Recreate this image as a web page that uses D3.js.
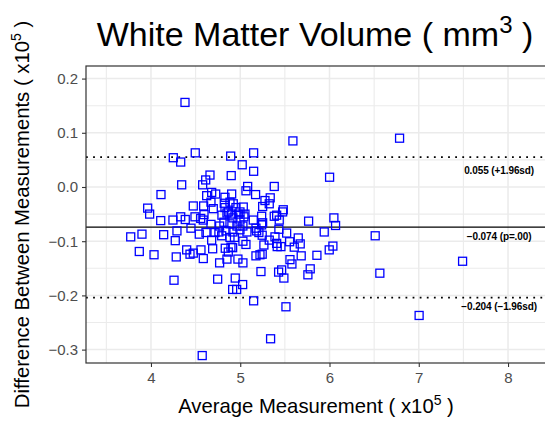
<!DOCTYPE html>
<html><head><meta charset="utf-8">
<script src="https://cdn.jsdelivr.net/npm/d3@7"></script>
<style>body{margin:0;background:#fff;} svg{display:block;font-family:"Liberation Sans",Arial,sans-serif;}</style>
</head><body><svg id="c" width="545" height="421"></svg>
<script>
// Average measurement (x10^5)
const avgValues = [
 4.381,5.590,4.250,4.333,4.496,4.893,5.150,5.022,5.150,4.661,
 4.613,4.579,4.344,4.899,5.083,5.064,5.381,4.112,4.624,4.680,
 4.725,4.829,4.904,5.172,5.336,5.277,5.325,5.482,3.963,4.474,
 4.590,4.672,4.698,4.821,4.922,5.034,5.251,3.985,4.109,4.246,
 4.333,4.384,4.493,4.557,4.594,4.672,4.769,3.773,3.899,4.142,
 4.291,4.272,3.869,4.034,4.283,4.400,4.437,4.474,4.560,4.586,
 4.691,4.541,4.616,4.680,4.717,4.769,4.851,4.832,4.866,4.915,
 4.974,5.030,5.030,5.064,4.885,4.935,4.258,4.747,4.944,4.915,
 4.960,5.027,5.150,5.232,5.176,5.221,5.246,5.265,5.246,5.184,
 5.209,5.146,5.251,5.240,5.381,5.408,5.437,5.389,5.325,5.408,
 5.414,5.456,5.433,5.520,5.553,5.605,5.650,5.672,5.683,5.557,
 5.579,5.430,5.464,5.489,5.512,5.340,4.574,5.766,5.758,5.784,
 6.785,6.001,6.049,6.068,5.941,6.512,5.859,5.997,6.038,6.564,
 7.491,7.004,4.885,4.829,4.952,4.997,4.866,4.904,4.978,5.053,
 4.586,4.448,4.792,4.761,4.896,5.240,5.475,5.176,
 4.795,4.851,4.918,4.997,5.041,4.817,4.885,4.963,5.030,4.840,4.918,4.997,5.075
];
// Difference between measurements (x10^5)
const diffValues = [
 0.156,0.085,0.054,0.046,0.063,0.057,0.063,0.041,0.029,0.022,
 0.013,0.004,0.004,0.021,0.001,-0.007,0.001,-0.014,-0.016,-0.010,
 -0.013,-0.019,-0.013,-0.014,-0.020,-0.025,-0.031,-0.042,-0.039,-0.035,
 -0.035,-0.028,-0.040,-0.030,-0.031,-0.037,-0.036,-0.050,-0.062,-0.061,
 -0.055,-0.060,-0.055,-0.058,-0.051,-0.069,-0.072,-0.092,-0.087,-0.088,
 -0.081,-0.099,-0.119,-0.125,-0.129,-0.116,-0.124,-0.122,-0.116,-0.132,
 -0.114,-0.087,-0.084,-0.098,-0.084,-0.140,-0.133,-0.113,-0.120,-0.112,
 -0.133,-0.140,-0.100,-0.106,-0.093,-0.093,-0.172,-0.170,-0.168,-0.189,
 -0.189,-0.180,-0.210,-0.156,-0.127,-0.125,-0.124,-0.107,-0.089,-0.081,
 -0.084,-0.061,-0.066,-0.054,-0.054,-0.052,-0.061,-0.092,-0.098,-0.104,
 -0.110,-0.110,-0.078,-0.085,-0.101,-0.111,-0.094,-0.105,-0.127,-0.134,
 -0.142,-0.157,-0.153,-0.168,-0.221,-0.280,-0.311,-0.063,-0.162,-0.151,
 0.090,0.018,-0.057,-0.071,-0.083,-0.090,-0.126,-0.116,-0.109,-0.159,
 -0.137,-0.237,-0.028,-0.038,-0.038,-0.046,-0.046,-0.050,-0.050,-0.050,
 -0.061,-0.076,-0.090,-0.083,-0.111,-0.070,-0.046,-0.076,
 -0.052,-0.048,-0.057,-0.061,-0.055,-0.065,-0.068,-0.072,-0.072,-0.081,-0.083,-0.079,-0.083
];
const xTickValues = [4,5,6,7,8];
const xMinorValues = [3.5,4.5,5.5,6.5,7.5];
const yTickValues = [-0.3,-0.2,-0.1,0.0,0.1,0.2];
const yMinorValues = [-0.25,-0.15,-0.05,0.05,0.15];
const refLineValues = [0.055,-0.074,-0.204];
const refLineStyles = ["dot","solid","dot"];
const refLabels = ["0.055 (+1.96sd)","\u22120.074 (p=.00)","\u22120.204 (\u22121.96sd)"];
const refLabelY = [0.031,-0.092,-0.221];
const refLabelX = 7.9;
const xDomain = [3.272, 8.4255];
const yDomain = [-0.3247, 0.2232];

const svg = d3.select("#c");
const L = 86, R = 546, T = 66, B = 363;
const x = d3.scaleLinear().domain(xDomain).range([L, R]);
const y = d3.scaleLinear().domain(yDomain).range([B, T]);

svg.append("defs").append("clipPath").attr("id","clip")
  .append("rect").attr("x",L).attr("y",T).attr("width",R-L).attr("height",B-T);

const panel = svg.append("g").attr("clip-path","url(#clip)");
panel.append("rect").attr("x",L).attr("y",T).attr("width",R-L).attr("height",B-T).attr("fill","#fff");

// grid
panel.selectAll(".xmin").data(xMinorValues).join("line")
  .attr("x1",d=>x(d)).attr("x2",d=>x(d)).attr("y1",T).attr("y2",B)
  .attr("stroke","#ebebeb").attr("stroke-width",1.1);
panel.selectAll(".ymin").data(yMinorValues).join("line")
  .attr("y1",d=>y(d)).attr("y2",d=>y(d)).attr("x1",L).attr("x2",R)
  .attr("stroke","#ebebeb").attr("stroke-width",1.1);
panel.selectAll(".xmaj").data(xTickValues).join("line")
  .attr("x1",d=>x(d)).attr("x2",d=>x(d)).attr("y1",T).attr("y2",B)
  .attr("stroke","#ebebeb").attr("stroke-width",1.5);
panel.selectAll(".ymaj").data(yTickValues).join("line")
  .attr("y1",d=>y(d)).attr("y2",d=>y(d)).attr("x1",L).attr("x2",R)
  .attr("stroke","#ebebeb").attr("stroke-width",1.5);

// reference lines
refLineValues.forEach((v,i)=>{
  const ln = panel.append("line").attr("x1",L).attr("x2",R)
    .attr("y1",y(v)).attr("y2",y(v)).attr("stroke","#000");
  if (refLineStyles[i]==="dot") ln.attr("stroke-width",1.8).attr("stroke-dasharray","1.8,5.3");
  else ln.attr("stroke-width",1.4);
});

// points
const s = 8;
panel.selectAll(".pt").data(avgValues.map((v,i)=>[v,diffValues[i]])).join("rect")
  .attr("x",d=>x(d[0])-s/2).attr("y",d=>y(d[1])-s/2)
  .attr("width",s).attr("height",s)
  .attr("fill","none").attr("stroke","#0000ff").attr("stroke-width",1.3);

// labels
refLabels.forEach((t,i)=>{
  panel.append("text").attr("x",x(refLabelX)).attr("y",y(refLabelY[i]))
    .attr("dy","0.35em").attr("text-anchor","middle")
    .attr("font-size",10).attr("font-weight","bold").attr("letter-spacing","-0.1")
    .attr("fill","#000").text(t);
});

// border
svg.append("rect").attr("x",L).attr("y",T).attr("width",R-L).attr("height",B-T)
  .attr("fill","none").attr("stroke","#333").attr("stroke-width",1.2);

// axes
const fmtY = d => (d<0?"\u2212":"") + Math.abs(d).toFixed(1);
const xAxis = svg.append("g").attr("transform",`translate(0,${B})`)
  .call(d3.axisBottom(x).tickValues(xTickValues).tickFormat(d3.format("d")).tickSize(4).tickPadding(5));
const yAxis = svg.append("g").attr("transform",`translate(${L},0)`)
  .call(d3.axisLeft(y).tickValues(yTickValues).tickFormat(fmtY).tickSize(4).tickPadding(4));
[xAxis,yAxis].forEach(a=>{
  a.select(".domain").remove();
  a.selectAll(".tick line").attr("stroke","#333").attr("stroke-width",1.1);
  a.selectAll(".tick text").attr("fill","#4d4d4d").attr("font-size",15)
    .attr("font-family","'Liberation Sans',Arial,sans-serif");
});

// title
const title = svg.append("text").attr("x",(L+R)/2 - 1).attr("y",46).attr("text-anchor","middle")
  .attr("font-size",34).attr("fill","#000");
title.append("tspan").text("White Matter Volume ( mm");
title.append("tspan").attr("font-size",24).attr("dy",-13).text("3");
title.append("tspan").attr("dy",13).text(" )");

// x label
const xl = svg.append("text").attr("x",(L+R)/2).attr("y",413).attr("text-anchor","middle")
  .attr("font-size",20.3).attr("fill","#000");
xl.append("tspan").text("Average Measurement ( x10");
xl.append("tspan").attr("font-size",14).attr("dy",-8).text("5");
xl.append("tspan").attr("dy",8).text(" )");

// y label
const yl = svg.append("text").attr("transform",`translate(29,${(T+B)/2}) rotate(-90)`)
  .attr("text-anchor","middle").attr("font-size",20.3).attr("fill","#000");
yl.append("tspan").text("Difference Between Measurements ( x10");
yl.append("tspan").attr("font-size",14).attr("dy",-8).text("5");
yl.append("tspan").attr("dy",8).text(" )");
</script></body></html>
